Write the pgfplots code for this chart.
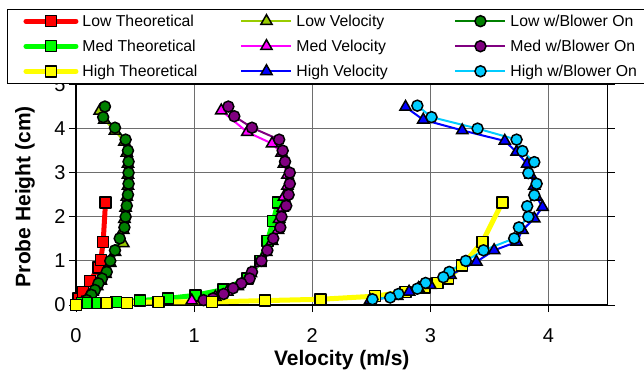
\documentclass[border=0pt]{standalone}
\usepackage{fontspec}
\setmainfont{Liberation Sans}
\usepackage{pgfplots}
\pgfplotsset{compat=1.18}
\definecolor{lowvel}{RGB}{153,204,0}
\definecolor{dgreen}{RGB}{0,128,0}
\definecolor{purp}{RGB}{128,0,128}
\definecolor{cyanb}{RGB}{0,204,255}
\definecolor{magb}{RGB}{255,0,255}
\definecolor{redb}{RGB}{255,0,0}
\definecolor{greenb}{RGB}{0,255,0}
\definecolor{yellowb}{RGB}{255,255,0}
\definecolor{blueb}{RGB}{0,0,255}
\definecolor{gridc}{RGB}{110,110,110}
\newcommand{\lt}[1]{\makebox[156pt][l]{\vphantom{Ly}#1}}
\newcommand{\ltt}[1]{\makebox[126pt][l]{\vphantom{Ly}#1}}
\pgfplotsset{
 theo/.style={color=#1, line width=5pt, line cap=round, line join=round, mark=square*, mark size=5.5pt,
   mark options={draw=black, fill=#1, line width=1.5pt, solid},
   legend image code/.code={\path (-6pt,0pt); \draw[mark repeat=2,mark phase=2] plot coordinates {(0pt,0pt) (25pt,0pt) (50pt,0pt)};}},
 vel/.style={color=#1, line width=2pt, mark=triangle*, mark size=6.5pt,
   mark options={draw=black, fill=#1, line width=1.5pt, solid}},
 blow/.style={color=#1, line width=2pt, mark=*, mark size=5.5pt,
   mark options={draw=black, fill=#1, line width=1.5pt, solid}},
}
\begin{document}
\begin{tikzpicture}
\path[use as bounding box] (-76pt,-65pt) rectangle (568pt,305pt);
\begin{axis}[
 at={(0pt,0pt)}, anchor=south west,
 scale only axis, width=531.5pt, height=220.5pt,
 xmin=0, xmax=4.5, ymin=0, ymax=5,
 xtick={0,1,2,3,4}, ytick={0,1,2,3,4,5},
 grid=major, major grid style={gridc, line width=0.9pt},
 tick align=outside, major tick length=7pt,
 tick style={black, line width=0.9pt},
 axis line style={black, line width=1.3pt},
 /pgf/number format/assume math mode=true,
 ticklabel style={font=\fontsize{20}{20}\selectfont},
 xticklabel style={yshift=-13pt},
 xlabel={Velocity (m/s)},
 ylabel={Probe Height (cm)},
 every axis x label/.style={at={(axis description cs:0.5,-0.2494)}, anchor=center,
   font=\bfseries\fontsize{21}{21}\selectfont},
 every axis y label/.style={at={(axis description cs:-0.096,0.491)}, rotate=90, anchor=center,
   font=\bfseries\fontsize{21}{21}\selectfont},
 clip=false,
 legend columns=3,
 legend cell align=left,
 legend image code/.code={\draw[mark repeat=2,mark phase=2] plot coordinates {(0pt,0pt) (25pt,0pt) (50pt,0pt)};},
 legend style={at={(axis description cs:-0.1293,1.3424)}, anchor=north west,
   draw=black, fill=white, inner xsep=10pt, inner ysep=3.5pt,
   font=\fontsize{15.8}{18}\selectfont, row sep=8.1pt,
   /tikz/every odd column/.append style={column sep=2pt}},
]
\addplot[theo=redb] coordinates {
 (0,0) (0.02,0.15) (0.06,0.3) (0.12,0.55) (0.19,0.85) (0.21,1.02) (0.23,1.43) (0.25,2.33)};
\addlegendentry{\lt{Low Theoretical}}
\addplot[vel=lowvel] coordinates {
 (0.20,4.4) (0.24,4.2) (0.33,3.95) (0.41,3.7) (0.43,3.45) (0.44,3.2) (0.44,2.95) (0.44,2.7)
 (0.43,2.45) (0.42,2.2) (0.41,1.95) (0.40,1.7) (0.40,1.4) (0.33,1.2) (0.29,0.95) (0.25,0.7)
 (0.21,0.55) (0.18,0.42) (0.14,0.3) (0.10,0.18) (0.05,0.05)};
\addlegendentry{\lt{Low Velocity}}
\addplot[blow=dgreen] coordinates {
 (0.245,4.5) (0.23,4.26) (0.33,4.02) (0.42,3.75) (0.44,3.5) (0.445,3.25) (0.445,3.0) (0.445,2.75)
 (0.44,2.5) (0.43,2.25) (0.42,2.0) (0.41,1.76) (0.37,1.51) (0.33,1.24) (0.29,1.0) (0.26,0.75)
 (0.22,0.6) (0.19,0.49) (0.16,0.34) (0.13,0.23) (0.09,0.11)};
\addlegendentry{\ltt{Low w/Blower On}}
\addplot[theo=greenb] coordinates {
 (0,0) (0.05,0.04) (0.1,0.04) (0.18,0.04) (0.34,0.07) (0.54,0.1) (0.78,0.15) (1.01,0.22)
 (1.25,0.35) (1.45,0.6) (1.56,1.0) (1.62,1.45) (1.67,1.9) (1.71,2.33)};
\addlegendentry{\lt{Med Theoretical}}
\addplot[vel=magb] coordinates {
 (1.23,4.41) (1.45,3.92) (1.66,3.66) (1.74,3.45) (1.76,3.2) (1.79,2.95) (1.79,2.7) (1.76,2.45)
 (1.75,2.2) (1.72,1.95) (1.71,1.7) (1.66,1.45) (1.61,1.2) (1.56,0.95) (1.48,0.72) (1.44,0.55)
 (1.37,0.42) (1.28,0.3) (1.18,0.18) (0.98,0.1)};
\addlegendentry{\lt{Med Velocity}}
\addplot[blow=purp] coordinates {
 (1.29,4.5) (1.34,4.28) (1.49,4.02) (1.72,3.75) (1.75,3.5) (1.77,3.25) (1.81,3.0) (1.81,2.75)
 (1.80,2.5) (1.78,2.25) (1.74,2.0) (1.73,1.76) (1.67,1.51) (1.62,1.24) (1.57,1.0) (1.49,0.75)
 (1.47,0.6) (1.40,0.49) (1.33,0.38) (1.25,0.25) (1.16,0.15) (1.08,0.11)};
\addlegendentry{\ltt{Med w/Blower On}}
\addplot[theo=yellowb] coordinates {
 (0,0) (0.26,0.04) (0.43,0.05) (0.70,0.07) (1.15,0.07) (1.60,0.1) (2.07,0.13) (2.53,0.2)
 (2.79,0.3) (2.95,0.4) (3.06,0.5) (3.15,0.6) (3.27,0.9) (3.44,1.43) (3.61,2.33)};
\addlegendentry{\lt{High Theoretical}}
\addplot[vel=blueb] coordinates {
 (2.79,4.49) (2.94,4.2) (3.27,3.96) (3.63,3.72) (3.73,3.47) (3.82,3.2) (3.85,2.95) (3.88,2.7)
 (3.90,2.45) (3.95,2.22) (3.88,1.96) (3.78,1.7) (3.73,1.43) (3.54,1.24) (3.39,0.98) (3.17,0.68)
 (3.0,0.45) (2.9,0.38) (2.82,0.3) (2.72,0.2) (2.49,0.11)};
\addlegendentry{\lt{High Velocity}}
\addplot[blow=cyanb] coordinates {
 (2.89,4.52) (3.01,4.26) (3.40,4.0) (3.73,3.75) (3.78,3.49) (3.88,3.24) (3.83,2.99) (3.90,2.75)
 (3.88,2.49) (3.82,2.24) (3.83,2.0) (3.75,1.76) (3.71,1.51) (3.45,1.24) (3.30,1.0) (3.16,0.75)
 (3.11,0.63) (2.96,0.5) (2.89,0.37) (2.73,0.25) (2.66,0.17) (2.51,0.13)};
\addlegendentry{\ltt{High w/Blower On}}
\end{axis}
\end{tikzpicture}
\end{document}
